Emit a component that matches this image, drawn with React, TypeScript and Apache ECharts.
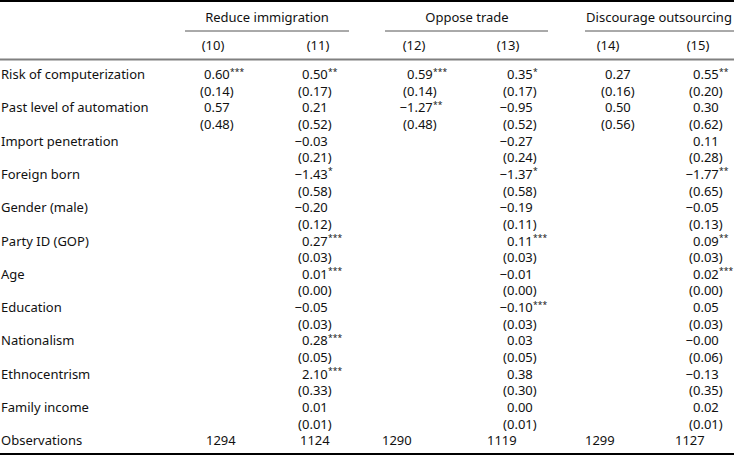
import React, { useEffect, useRef } from "react";
import * as echarts from "echarts";

const groupTitles = ["Reduce immigration", "Oppose trade", "Discourage outsourcing"];
const columnTitles = ["(10)", "(11)", "(12)", "(13)", "(14)", "(15)"];
const rowLabels = [
  "Risk of computerization",
  "Past level of automation",
  "Import penetration",
  "Foreign born",
  "Gender (male)",
  "Party ID (GOP)",
  "Age",
  "Education",
  "Nationalism",
  "Ethnocentrism",
  "Family income",
];

// coefficients (strings keep "-0.00"), stars, standard errors per column
const coef10 = ["0.60", "0.57"];
const stars10 = ["***", ""];
const se10 = ["0.14", "0.48"];

const coef11 = ["0.50", "0.21", "-0.03", "-1.43", "-0.20", "0.27", "0.01", "-0.05", "0.28", "2.10", "0.01"];
const stars11 = ["**", "", "", "*", "", "***", "***", "", "***", "***", ""];
const se11 = ["0.17", "0.52", "0.21", "0.58", "0.12", "0.03", "0.00", "0.03", "0.05", "0.33", "0.01"];

const coef12 = ["0.59", "-1.27"];
const stars12 = ["***", "**"];
const se12 = ["0.14", "0.48"];

const coef13 = ["0.35", "-0.95", "-0.27", "-1.37", "-0.19", "0.11", "-0.01", "-0.10", "0.03", "0.38", "0.00"];
const stars13 = ["*", "", "", "*", "", "***", "", "***", "", "", ""];
const se13 = ["0.17", "0.52", "0.24", "0.58", "0.11", "0.03", "0.00", "0.03", "0.05", "0.30", "0.01"];

const coef14 = ["0.27", "0.50"];
const stars14 = ["", ""];
const se14 = ["0.16", "0.56"];

const coef15 = ["0.55", "0.30", "0.11", "-1.77", "-0.05", "0.09", "0.02", "0.05", "-0.00", "-0.13", "0.02"];
const stars15 = ["**", "", "", "**", "", "**", "***", "", "", "", ""];
const se15 = ["0.20", "0.62", "0.28", "0.65", "0.13", "0.03", "0.00", "0.03", "0.06", "0.35", "0.01"];

const observations = ["1294", "1124", "1290", "1119", "1299", "1127"];

const FONT = '"Noto Sans", sans-serif';
const FS = 13;

export default function App() {
  const ref = useRef<HTMLDivElement>(null);
  useEffect(() => {
    if (!ref.current) return;
    const chart = echarts.init(ref.current, null, { renderer: "svg" });
    const ctx = document.createElement("canvas").getContext("2d")!;
    const measure = (s: string, size = FS) => {
      ctx.font = `${size}px "Noto Sans"`;
      return ctx.measureText(s).width;
    };
    const MINUS = "\u2212";

    const cols = [
      { coef: coef10, stars: stars10, se: se10 },
      { coef: coef11, stars: stars11, se: se11 },
      { coef: coef12, stars: stars12, se: se12 },
      { coef: coef13, stars: stars13, se: se13 },
      { coef: coef14, stars: stars14, se: se14 },
      { coef: coef15, stars: stars15, se: se15 },
    ];
    const digitX = [204, 302, 407, 507, 605, 693];
    const obsX = [206, 300, 382, 487, 585, 675];
    const colHeadX = [213, 318, 414, 508, 608, 698];
    const groupX = [267, 467, 659];
    const groupLines = [
      [185, 349],
      [385, 548],
      [585, 734],
    ];
    const rowY0 = 74;
    const rowStep = 33.3;

    const els: any[] = [];
    const txt = (x: number, y: number, text: string, align = "left", size = FS, vAlign = "middle") => {
      els.push({
        type: "text",
        x,
        y,
        style: {
          text,
          x: 0,
          y: 0,
          fill: "#111",
          font: `${size}px ${FONT}`,
          textAlign: align,
          textVerticalAlign: vAlign,
        },
        silent: true,
      });
    };
    const line = (x1: number, y1: number, x2: number, y2: number, color: string, w: number) => {
      els.push({
        type: "line",
        shape: { x1, y1, x2, y2 },
        style: { stroke: color, lineWidth: w },
        silent: true,
      });
    };

    // rules
    line(0, 1, 734, 1, "#000", 2);
    groupLines.forEach(([a, b]) => line(a, 31, b, 31, "#555", 1));
    line(0, 59.5, 734, 59.5, "#808080", 2);
    line(0, 454, 734, 454, "#000", 2);

    groupTitles.forEach((t, i) => txt(groupX[i], 16.5, t, "center"));
    columnTitles.forEach((t, i) => txt(colHeadX[i], 45, t, "center"));

    rowLabels.forEach((lab, r) => txt(1, rowY0 + rowStep * r, lab));
    txt(1, rowY0 + rowStep * rowLabels.length, "Observations");

    cols.forEach((c, ci) => {
      const x0 = digitX[ci];
      c.coef.forEach((v, r) => {
        const y = rowY0 + rowStep * r;
        const neg = v.startsWith("-");
        const body = neg ? v.slice(1) : v;
        const str = neg ? MINUS + body : body;
        const x = neg ? x0 - measure(MINUS) : x0;
        txt(x, y, str);
        const st = c.stars[r];
        if (st) {
          txt(x0 + measure(body) + 0.3, y - 7.5, st, "left", 8.5, "top");
        }
        const se = "(" + c.se[r] + ")";
        txt(x0 - measure("("), y + rowStep / 2, se);
      });
    });

    observations.forEach((o, i) => txt(obsX[i], rowY0 + rowStep * rowLabels.length, o));

    chart.setOption({
      animation: false,
      backgroundColor: "#fff",
      graphic: { elements: els },
    });
    return () => chart.dispose();
  }, []);
  return (
    <div
      ref={ref}
      style={{ position: "fixed", left: 0, top: 0, width: 734, height: 457, background: "#fff" }}
    />
  );
}
